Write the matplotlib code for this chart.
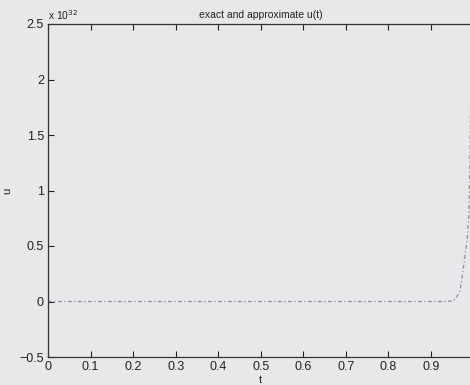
import matplotlib.pyplot as plt

# time samples and solution values (in units of 1e32)
t_vals = [0.0, 0.2, 0.4, 0.6, 0.8, 0.93, 0.952, 0.959, 0.968, 0.973, 0.977,
          0.981, 0.9845, 0.9865, 0.988, 0.989, 0.9895, 0.991, 0.993, 0.995]
u_vals = [0.0, 0.0, 0.0, 0.0, 0.0, 0.0, 0.005, 0.03, 0.10, 0.22, 0.33,
          0.45, 0.54, 0.63, 0.73, 0.82, 0.91, 1.2, 1.8, 2.5]

x_ticks = [0, 0.1, 0.2, 0.3, 0.4, 0.5, 0.6, 0.7, 0.8, 0.9]
y_ticks = [-0.5, 0, 0.5, 1, 1.5, 2, 2.5]

bg = '#e6e8ea'
plt.rcParams['font.family'] = ['Liberation Sans', 'DejaVu Sans']

fig = plt.figure(figsize=(4.70, 3.85), dpi=100, facecolor=bg)
ax = fig.add_axes([48 / 470, 28 / 385, 425.6 / 470, 333 / 385])
ax.set_facecolor(bg)

ax.plot(t_vals, u_vals, linestyle=(0, (3, 2, 1, 2)), color='#8a8f96', linewidth=0.9)

ax.set_xlim(0, 1)
ax.set_ylim(-0.5, 2.5)
ax.set_xticks(x_ticks)
ax.set_xticklabels([('%g' % v) for v in x_ticks])
ax.set_yticks(y_ticks)
ax.set_yticklabels(['\u22120.5', '0', '0.5', '1', '1.5', '2', '2.5'])
ax.tick_params(direction='in', length=4, width=0.8, labelsize=9,
               colors='#222222', pad=3, top=True, right=False)

for side in ['left', 'bottom', 'top']:
    ax.spines[side].set_color('#333333')
    ax.spines[side].set_linewidth(0.9)
ax.spines['right'].set_visible(False)

ax.set_title('exact and approximate u(t)', fontsize=7.5, pad=4, color='#222222')
ax.set_xlabel('t', fontsize=8, labelpad=1, color='#222222')
ax.set_ylabel('u', fontsize=8, color='#222222')
ax.yaxis.set_label_coords(-0.085, 0.5)
ax.text(0.0, 1.005, r'x 10$^{32}$', transform=ax.transAxes, fontsize=7.5,
        color='#222222', va='bottom', ha='left')

fig.savefig('out.png', dpi=100, facecolor=bg)
